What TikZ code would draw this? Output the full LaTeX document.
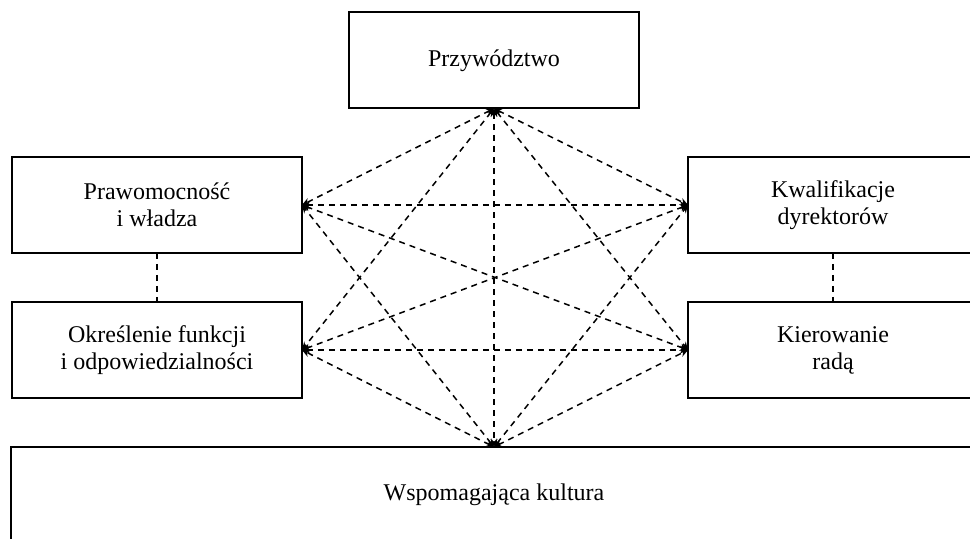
\documentclass[tikz,border=0pt]{standalone}
\usepackage{fontspec}
\setmainfont{Liberation Serif}
\usetikzlibrary{arrows.meta,positioning,calc}

\begin{document}
\begin{tikzpicture}[x=0.5pt,y=-0.5pt,
  box/.style={draw,line width=1pt,minimum width=145pt,minimum height=48pt,
    align=center,inner sep=0pt,outer sep=0pt,font=\fontsize{12}{13.5}\selectfont},
  link/.style={dash pattern=on 3pt off 2.5pt,line width=0.75pt,
    {Stealth[length=4pt,width=3.5pt]}-{Stealth[length=4pt,width=3.5pt]}},
  joint/.style={dash pattern=on 3pt off 2.5pt,line width=0.75pt}]
  \useasboundingbox (0,0) rectangle (970,539);
  \clip (0,0) rectangle (970,539);
  % boxes
  \node[box] (lead) at (494,60.5) {Przywództwo};
  \node[box] (legit) at (157,205) {Prawomocność\\i władza};
  \node[box] (roles) at (157,350) {Określenie funkcji\\i odpowiedzialności};
  \node[box] (skill) at (833,205) {Kwalifikacje\\dyrektorów};
  \node[box] (board) at (833,350) {Kierowanie\\radą};
  \node[box,minimum width=483pt] (culture) at (494,495) {Wspomagająca kultura};
  % links
  \foreach \a/\b in {lead.south/legit.east, lead.south/skill.west,
    lead.south/roles.east, lead.south/board.west, lead.south/culture.north,
    legit.east/skill.west, roles.east/board.west,
    legit.east/board.west, roles.east/skill.west,
    culture.north/legit.east, culture.north/skill.west,
    culture.north/roles.east, culture.north/board.west}
    \draw[link] (\a) -- (\b);
  \draw[joint] (legit) -- (roles);
  \draw[joint] (skill) -- (board);
\end{tikzpicture}
\end{document}
